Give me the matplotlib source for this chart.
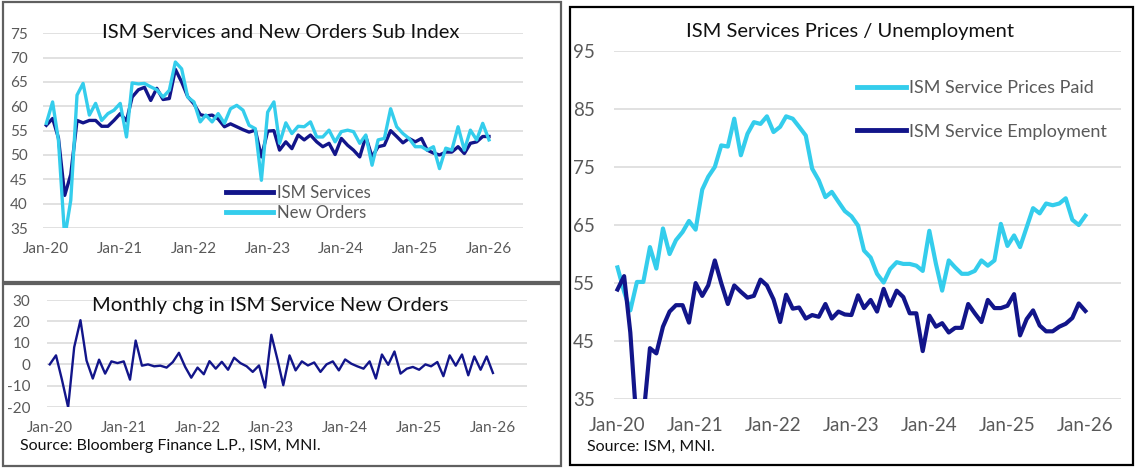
import matplotlib
matplotlib.use("Agg")
import matplotlib.pyplot as plt
import matplotlib.dates as mdates
from matplotlib.patches import Rectangle
import numpy as np
import pandas as pd

# ---------------- data ----------------
months = pd.date_range("2020-01-01", periods=73, freq="MS")
tick_dates = months[::12]

ism_services = [
    56.1, 57.5, 53.5, 41.7, 46.0, 57.1, 56.6, 57.1, 57.1, 55.9, 55.9, 57.1,
    58.5, 57.0, 61.9, 63.4, 63.9, 61.2, 63.7, 61.4, 61.6, 67.6, 65.0, 62.0,
    60.5, 58.3, 58.0, 58.2, 57.4, 55.8, 56.4, 55.8, 55.2, 54.7, 55.1, 49.6,
    54.9, 55.0, 51.0, 52.7, 51.3, 54.1, 53.1, 54.1, 52.7, 51.7, 52.4, 50.1,
    53.4, 52.0, 51.0, 49.6, 53.8, 49.6, 51.7, 52.0, 55.0, 53.8, 52.5, 53.4,
    52.7, 53.4, 51.0, 50.4, 50.0, 50.6, 50.6, 51.7, 50.3, 52.4, 52.7, 53.8,
    53.8,
]
new_orders = [
    56.5, 60.9, 53.0, 33.0, 40.7, 62.3, 64.7, 58.2, 60.6, 57.1, 58.5, 59.2,
    60.6, 53.7, 64.8, 64.6, 64.7, 64.0, 63.4, 61.9, 63.3, 69.1, 67.7, 61.9,
    60.9, 56.8, 58.2, 56.8, 58.5, 56.5, 59.5, 60.2, 59.2, 56.1, 55.4, 44.8,
    58.8, 60.9, 52.4, 56.6, 54.4, 55.9, 55.8, 56.8, 53.7, 53.7, 55.1, 52.7,
    54.8, 55.1, 54.8, 52.4, 54.1, 47.9, 53.1, 53.4, 59.5, 55.8, 54.4, 53.4,
    51.7, 51.7, 51.0, 51.7, 47.2, 51.4, 51.0, 55.8, 51.0, 55.1, 53.1, 56.5,
    53.1,
]
new_orders_chg = [
    0, 4.2, -7.0, -20, 8, 20.6, 1.8, -6.6, 2.2, -4.3, 1.4, 0.6,
    1.4, -7.1, 11.1, -0.6, 0, -0.9, -0.6, -1.5, 1.1, 5.4, -1.2, -6.2,
    -1.5, -4.6, 1.5, -2.0, 1.2, -2.5, 3.1, 0.6, -0.9, -3.5, -0.5, -10.8,
    13.8, 2.0, -9.7, 4.2, -2.8, 1.4, -0.5, 0.9, -3.5, 0, 1.4, -2.8,
    2.3, 0.3, -0.9, -2.0, 1.4, -6.6, 4.6, -0.2, 6.0, -4.3, -2.0, -1.2,
    -2.5, 0, -0.9, 1.1, -5.5, 4.2, -0.6, 4.6, -5.1, 3.7, -2.5, 3.7,
    -4.0,
]
prices_paid = [
    57.7, 53.5, 50.3, 55.2, 55.2, 61.2, 57.5, 64.4, 60.0, 62.4, 63.8, 65.7,
    64.2, 71.1, 73.3, 75.0, 78.7, 78.5, 83.3, 77.0, 80.7, 82.7, 82.4, 83.7,
    81.0, 81.9, 83.7, 83.3, 81.9, 80.4, 74.7, 72.7, 69.8, 70.7, 69.0, 67.4,
    66.5, 64.9, 60.6, 59.4, 56.6, 55.1, 57.4, 58.6, 58.3, 58.3, 58.0, 57.1,
    64.0, 58.3, 53.7, 58.9, 57.7, 56.6, 56.6, 57.1, 58.9, 58.0, 58.9, 65.2,
    61.4, 63.2, 61.2, 64.6, 67.9, 67.0, 68.7, 68.4, 68.7, 69.6, 65.9, 65.0,
    66.6,
]
employment = [
    53.9, 56.2, 46.5, 30.0, 31.8, 43.8, 42.9, 47.5, 50.1, 51.2, 51.2, 48.2,
    55.0, 52.8, 54.6, 58.9, 55.0, 51.4, 54.6, 53.5, 52.5, 52.8, 55.6, 54.6,
    52.2, 48.3, 53.0, 50.6, 50.8, 48.9, 49.5, 49.2, 51.4, 48.9, 50.1, 49.6,
    49.5, 52.9, 50.7, 52.1, 50.1, 54.0, 51.1, 53.7, 52.6, 49.8, 49.8, 43.3,
    49.4, 47.5, 48.1, 46.5, 47.3, 47.3, 51.4, 49.8, 48.3, 52.1, 50.7, 50.7,
    51.1, 53.1, 46.0, 48.8, 50.3, 47.7, 46.7, 46.7, 47.5, 48.0, 49.0, 51.5,
    50.2,
]

top_left_yticks = [35, 40, 45, 50, 55, 60, 65, 70, 75]
bottom_left_yticks = [-20, -10, 0, 10, 20, 30]
right_yticks = [35, 45, 55, 65, 75, 85, 95]

# ---------------- style ----------------
DARK = "#12158a"
LIGHT = "#34cdec"
GRID = "#d9d9d9"
TICK = "#595959"
FONT = ["Lato", "DejaVu Sans"]
plt.rcParams["font.family"] = FONT
plt.rcParams["axes.unicode_minus"] = False

W, H = 1139, 473
fig = plt.figure(figsize=(W / 100, H / 100), dpi=100)


def ax_at(x0, y0, x1, y1):
    """pixel box (top-left origin) -> axes"""
    return fig.add_axes([x0 / W, 1 - y1 / H, (x1 - x0) / W, (y1 - y0) / H])


def box(x0, y0, x1, y1, color, lw):
    fig.patches.append(Rectangle((x0 / W, 1 - y1 / H), (x1 - x0) / W, (y1 - y0) / H,
                                 transform=fig.transFigure, fill=False,
                                 edgecolor=color, linewidth=lw, zorder=10))


xleft = pd.Timestamp("2019-12-17")
xright = pd.Timestamp("2026-06-17")


def style(ax, yticks, fs, xpad, ypad):
    ax.set_xlim(xleft, xright)
    ax.set_ylim(yticks[0], yticks[-1])
    ax.set_yticks(yticks)
    ax.set_xticks(tick_dates)
    ax.xaxis.set_major_formatter(mdates.DateFormatter("%b-%y"))
    ax.grid(axis="y", color=GRID, linewidth=1.1)
    ax.set_axisbelow(True)
    for s in ax.spines.values():
        s.set_visible(False)
    ax.tick_params(axis="both", length=0, labelsize=fs, colors=TICK)
    ax.tick_params(axis="x", pad=xpad)
    ax.tick_params(axis="y", pad=ypad)
    ax.set_facecolor("none")


# ---- top-left ----
ax1 = ax_at(43.3, 33.3, 522.7, 228)
style(ax1, top_left_yticks, 11, 10, 11)
l1, = ax1.plot(months, ism_services, color=DARK, linewidth=2.4, solid_joinstyle="round",
               label="ISM Services")
l2, = ax1.plot(months, new_orders, color=LIGHT, linewidth=2.4, solid_joinstyle="round",
               label="New Orders")
fig.text(281 / W, 1 - 32 / H, "ISM Services and New Orders Sub Index", fontsize=14.5,
         ha="center", va="center", color="#111111")
leg1 = ax1.legend(handles=[l1, l2], loc="center left", frameon=False,
                  bbox_to_anchor=(226 / W, 1 - 203 / H), bbox_transform=fig.transFigure,
                  fontsize=12, handlelength=2.8, handletextpad=0.25, labelspacing=0.2,
                  borderpad=0, borderaxespad=0)
for t in leg1.get_texts():
    t.set_color(TICK)
for h in leg1.get_lines():
    h.set_linewidth(3.5)

# ---- bottom-left ----
ax2 = ax_at(46.7, 300, 526.7, 407.3)
style(ax2, bottom_left_yticks, 11, 10, 12)
ax2.plot(months, new_orders_chg, color=DARK, linewidth=1.7, solid_joinstyle="round")
fig.text(270.5 / W, 1 - 305 / H, "Monthly chg in ISM Service New Orders", fontsize=14.5,
         ha="center", va="center", color="#111111")
fig.text(20 / W, 1 - 446 / H, "Source: Bloomberg Finance L.P., ISM, MNI.", fontsize=11.5,
         ha="left", va="center", color="#111111")

# ---- right ----
ax3 = ax_at(614.3, 50.7, 1121, 399.3)
style(ax3, right_yticks, 13.5, 13, 14)
r1, = ax3.plot(months, prices_paid, color=LIGHT, linewidth=3.0, solid_joinstyle="round",
               label="ISM Service Prices Paid")
r2, = ax3.plot(months, employment, color=DARK, linewidth=3.0, solid_joinstyle="round",
               label="ISM Service Employment")
fig.text(850 / W, 1 - 31.7 / H, "ISM Services Prices / Unemployment", fontsize=14.5,
         ha="center", va="center", color="#111111")
leg3 = ax3.legend(handles=[r1, r2], loc="center left", frameon=False,
                  bbox_to_anchor=(857 / W, 1 - 110 / H), bbox_transform=fig.transFigure,
                  fontsize=13, handlelength=2.7, handletextpad=0.2, labelspacing=1.5,
                  borderpad=0, borderaxespad=0)
for t in leg3.get_texts():
    t.set_color(TICK)
for h in leg3.get_lines():
    h.set_linewidth(3.5)
fig.text(587 / W, 1 - 447 / H, "Source: ISM, MNI.", fontsize=11.5,
         ha="left", va="center", color="#111111")

# ---- panel borders ----
box(2.5, 2.5, 560.5, 282, "#606060", 1.6)
box(2.5, 284, 560.5, 465.5, "#606060", 1.6)
box(570, 7.5, 1132.5, 464.5, "#000000", 1.6)

fig.savefig("out.png", dpi=100)
